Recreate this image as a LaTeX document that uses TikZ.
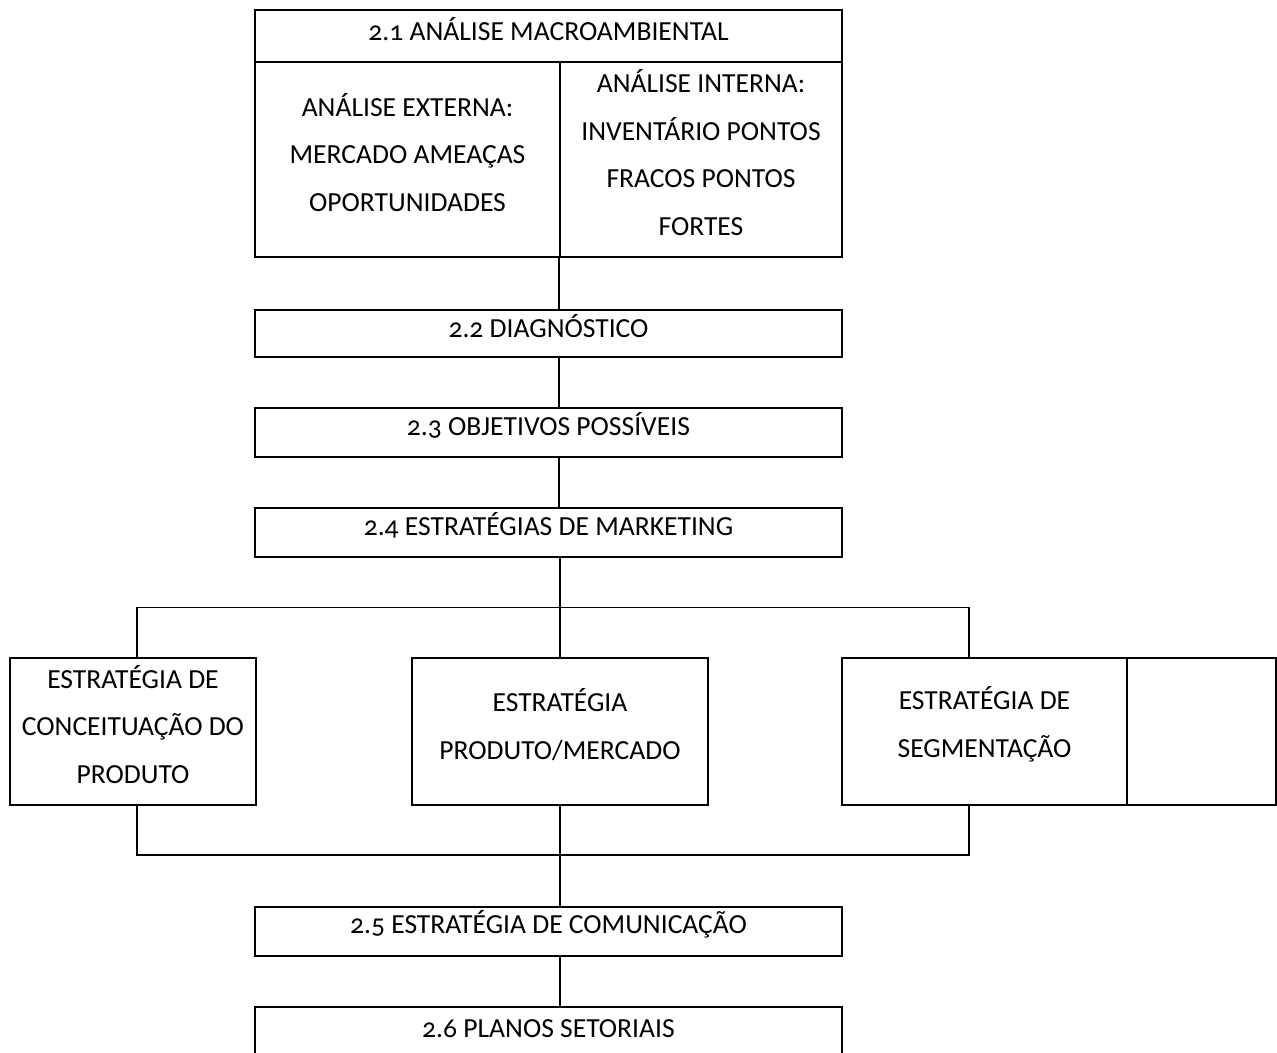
\documentclass[tikz,border=0pt]{standalone}
\usepackage{fontspec}
\setmainfont{Carlito}[Numbers=OldStyle]
\usetikzlibrary{calc}

\tikzset{
  box/.style={draw, line width=1.1pt, inner sep=0pt},
  txt/.style={align=center, font=\fontsize{15.7}{27}\selectfont, yshift=0.14cm},
  link/.style={line width=1.1pt}
}

\begin{document}
\begin{tikzpicture}[x=0.02cm, y=-0.02cm]
  \useasboundingbox (0,0) rectangle (1277,1053);

  % 2.1
  \node[box, minimum width=11.74cm, minimum height=1.04cm] (macro) at (548.5,36) {};
  \node[txt] (macrot) at (macro) {2.1 ANÁLISE MACROAMBIENTAL};
  \node[box, minimum width=6.1cm, minimum height=3.9cm] (ext) at (407.5,159.5) {};
  \node[txt] (extt) at (ext) {ANÁLISE EXTERNA:\\MERCADO AMEAÇAS\\OPORTUNIDADES};
  \node[box, minimum width=5.64cm, minimum height=3.9cm] (int) at (701,159.5) {};
  \node[txt] (intt) at (int) {ANÁLISE INTERNA:\\INVENTÁRIO PONTOS\\FRACOS PONTOS\\FORTES};

  % 2.2 - 2.4
  \node[box, minimum width=11.74cm, minimum height=0.94cm] (diag) at (548.5,333.5) {};
  \node[txt] (diagt) at (diag) {2.2 DIAGNÓSTICO};
  \node[box, minimum width=11.74cm, minimum height=0.98cm] (obj) at (548.5,432.5) {};
  \node[txt] (objt) at (obj) {2.3 OBJETIVOS POSSÍVEIS};
  \node[box, minimum width=11.74cm, minimum height=0.98cm] (mkt) at (548.5,532.5) {};
  \node[txt] (mktt) at (mkt) {2.4 ESTRATÉGIAS DE MARKETING};

  % estrategias
  \node[box, minimum width=4.92cm, minimum height=2.94cm] (conc) at (133,731.5) {};
  \node[txt] (conct) at (conc) {ESTRATÉGIA DE\\CONCEITUAÇÃO DO\\PRODUTO};
  \node[box, minimum width=5.92cm, minimum height=2.94cm] (prod) at (560,731.5) {};
  \node[txt] (prodt) at (prod) {ESTRATÉGIA\\PRODUTO/MERCADO};
  \node[box, minimum width=5.7cm, minimum height=2.94cm] (seg) at (984.5,731.5) {};
  \node[txt] (segt) at (seg) {ESTRATÉGIA DE\\SEGMENTAÇÃO};
  \node[box, minimum width=2.98cm, minimum height=2.94cm] (segx) at (1201.5,731.5) {};

  % 2.5 - 2.6
  \node[box, minimum width=11.74cm, minimum height=0.98cm] (com) at (548.5,931.5) {};
  \node[txt] (comt) at (com) {2.5 ESTRATÉGIA DE COMUNICAÇÃO};
  \node[box, minimum width=11.74cm, minimum height=2cm] (plan) at (548.5,1057) {};
  \node[txt, yshift=0.42cm] (plant) at (plan) {2.6 PLANOS SETORIAIS};

  \coordinate (split) at (560,607.5);
  \coordinate (join) at (560,855);

  \draw[link] (int.south west) -- (int.south west |- diag.north);
  \draw[link] (diag.south -| int.south west) -- (obj.north -| int.south west);
  \draw[link] (obj.south -| int.south west) -- (mkt.north -| int.south west);
  \draw[link] (mkt.south -| prod.north) -- (prod.north);
  \draw[link] ($(conc.north)+(4,0)$) |- (split) -| ($(seg.north)+(-15.5,0)$);
  \draw[link] ($(conc.south)+(4,0)$) |- (join) -| ($(seg.south)+(-15.5,0)$);
  \draw[link] (prod.south) -- (com.north -| prod.south);
  \draw[link] (com.south -| prod.south) -- (plan.north -| prod.south);
\end{tikzpicture}
\end{document}
